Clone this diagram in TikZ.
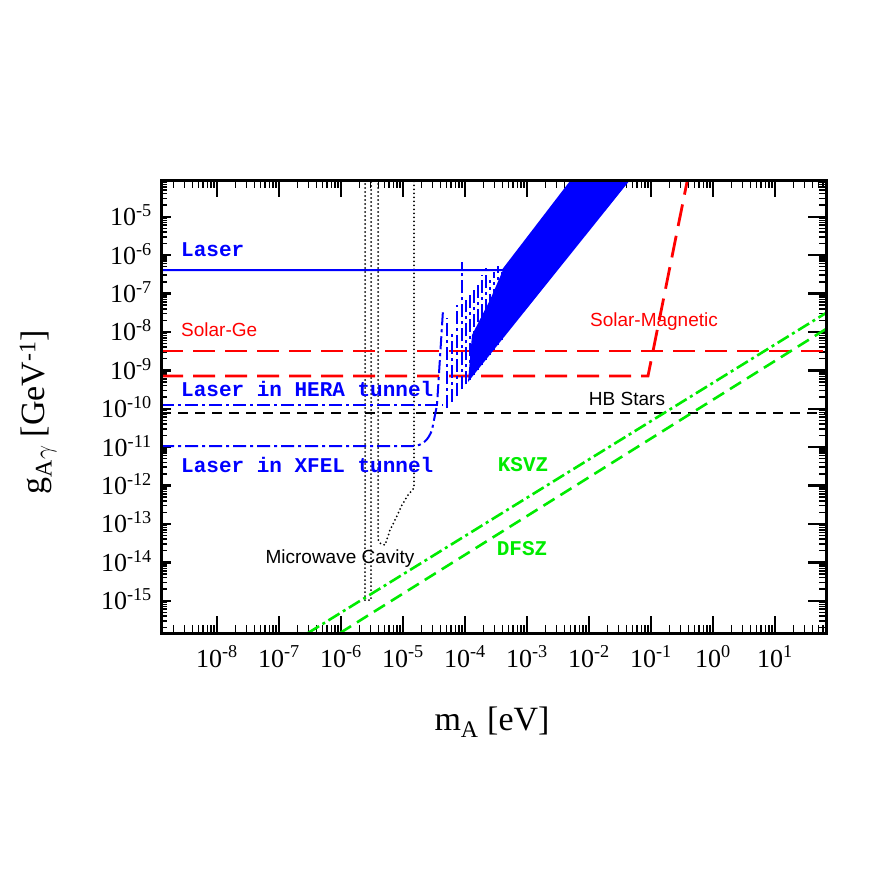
\documentclass[tikz,border=0pt]{standalone}
\usepackage{fontspec}
\setmainfont{Liberation Serif}
\setsansfont{Liberation Sans}
\newfontfamily\labfont{Liberation Mono}
\usetikzlibrary{positioning}
\definecolor{lime}{RGB}{0,235,0}
\tikzset{every node/.style={inner sep=0pt}, >= latex,
  numlab/.style={font=\fontsize{26}{28}\selectfont},
  sanslab/.style={font=\sffamily\fontsize{19}{21}\selectfont},
  boldlab/.style={font=\labfont\bfseries\fontsize{21}{22}\selectfont},
  dashdot/.style={dash pattern=on 13pt off 4pt on 3pt off 4pt},
  longdash/.style={dash pattern=on 22pt off 10pt},
  dots/.style={line width=2pt,line cap=round,dash pattern=on 0pt off 4pt}}

\begin{document}
\begin{tikzpicture}[x=1pt,y=-1pt]
            \useasboundingbox (0,0) rectangle (872,872);
            % ticks
            \begin{scope}
                \clip (161,180) rectangle (826,633);
                \foreach \d in {-9,...,1} {
                    \pgfmathsetmacro{\xa}{217+62*(\d+8)}
                    \draw[line width=2.4pt] (\xa,633) -- ++(0,-17) (\xa,180) -- ++(0,17);
                    \foreach \m in {2,...,9} {
                        \pgfmathsetmacro{\xb}{\xa+62*log10(\m)}
                        \draw[line width=1.6pt] (\xb,633) -- ++(0,-8) (\xb,180) -- ++(0,8);
                    }
                }
                \foreach \k in {-1,...,11} {
                    \pgfmathsetmacro{\ya}{216.7+38.4*\k}
                    \draw[line width=2.4pt] (161,\ya) -- ++(10,0) (826,\ya) -- ++(-18,0);
                    \foreach \m in {2,...,9} {
                        \pgfmathsetmacro{\yb}{\ya-38.4*log10(\m)}
                        \draw[line width=1.5pt] (161,\yb) -- ++(6,0) (826,\yb) -- ++(-7,0);
                    }
                }
            \end{scope}
            % axis labels
            \foreach \k in {-8,...,1} {
                \node[numlab,anchor=base] (xl\k) at ({217+62*(\k+8)},667) {10\textsuperscript{\k}};
            }
            \foreach \k in {5,...,15} {
                \node[numlab,anchor=base east] (yl\k) at (152,{216.7+38.4*(\k-5)+9}) {10\textsuperscript{-\k}};
            }
            \node[font=\fontsize{34}{36}\selectfont] (xtitle) at (492,722) {m\textsubscript{A} [eV]};
            \node[font=\fontsize{34}{36}\selectfont,rotate=90] (ytitle) at (38,412) {g\textsubscript{A$\gamma$} [GeV\textsuperscript{-1}]};

            % microwave cavity
            \draw[dots] (365,180) -- (365,600) -- (371,600) -- (371,180);
            \draw[dots] (378,180) -- (378,538) to[out=-90,in=180] (385,545)
                -- (390,530) -- (396,518) -- (402,505) -- (408,495) -- (414,488) -- (414,180);
            % HB stars
            \draw[line width=2.2pt,dash pattern=on 10pt off 7pt] (161,413) -- (826,413);
            % solar
            \draw[red,line width=2.8pt,longdash] (161,351) -- (826,351);
            \draw[red,line width=2.8pt,longdash] (161,376) -- (648,376) -- (687,182);
            % laser
            \fill[blue] (468,382) -- (630,180) -- (572,180) -- (503,270) -- (490,300) -- (472,335) -- cycle;
            \foreach \xx/\tt in {447/318,452/330,457/305,462/262,466/300,470/292,474/288,478/282,
                482/275,486/268,490/280,494/272,498/266,502/272} {
                \draw[blue,line width=1.8pt,dashdot] (\xx,{382-1.247*(\xx-468)}) -- (\xx,\tt);
            }
            \draw[blue,line width=2pt] (161,270) -- (503,270) -- (572,180);
            \draw[blue,line width=2pt,dashdot] (161,405) -- (443,405);
            \draw[blue,line width=2pt,dashdot] (161,446) -- (413,446) to[out=0,in=-110] (432,430)
                -- (437,405) -- (443,310);
            % axion models
            \draw[lime,line width=2.6pt,dashdot] (308,633) -- (826,313);
            \draw[lime,line width=2.6pt,dash pattern=on 13pt off 7pt] (340,633) -- (826,329);

            \draw[line width=3pt] (161,180) rectangle (826,633);

            \node[boldlab,blue,anchor=west] (laser) at (181,250) {Laser};
            \node[sanslab,red,anchor=west] (solarge) at (181,330) {Solar-Ge};
            \node[boldlab,blue,anchor=west] (hera) at (181,389) {Laser in HERA tunnel};
            \node[boldlab,blue,anchor=west] (xfel) at (181,465) {Laser in XFEL tunnel};
            \node[sanslab,red] (solarmag) at (654,322) {Solar-Magnetic};
            \node[sanslab] (hb) at (627,399) {HB Stars};
            \node[sanslab] (cavity) at (340,559) {Microwave Cavity};
            \node[boldlab,lime] (ksvz) at (523,465) {KSVZ};
            \node[boldlab,lime] (dfsz) at (522,549) {DFSZ};

        \end{tikzpicture}
\end{document}
